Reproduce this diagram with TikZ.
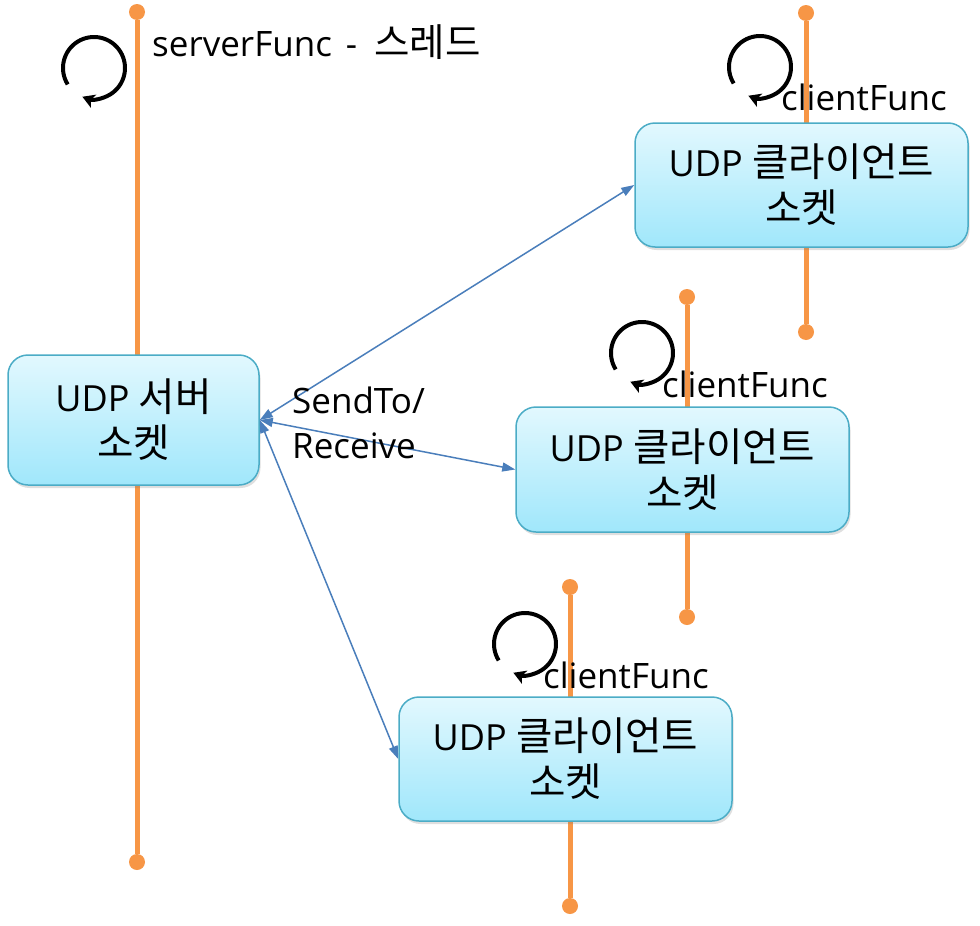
\documentclass[tikz,border=0pt]{standalone}
\usepackage{fontspec}
\setmainfont{Open Sans}
\newfontfamily\kr[Scale=1.1]{Noto Sans CJK KR}
\usetikzlibrary{arrows.meta,shadows}
\definecolor{lineorange}{HTML}{F79646}
\definecolor{boxborder}{HTML}{4BACC6}
\definecolor{boxtop}{HTML}{E2F8FE}
\definecolor{boxbottom}{HTML}{A0E7FB}
\definecolor{linkblue}{HTML}{4A7EBB}
\tikzset{
  sockbox/.style={draw=boxborder, line width=1.5pt, rounded corners=20pt,
    top color=boxtop, bottom color=boxbottom, align=center,
    font=\fontsize{36}{46}\selectfont, inner sep=0pt,
    drop shadow={opacity=0.25, shadow xshift=1.5pt, shadow yshift=-3pt}},
  lifeline/.style={draw=lineorange, line width=5pt},
  enddot/.style={circle, fill=lineorange, minimum size=16pt, inner sep=0pt},
  lbl/.style={font=\fontsize{35}{45}\selectfont, inner sep=0pt, align=left},
  link/.style={draw=linkblue, line width=1.5pt,
    {Triangle[length=13pt,width=9pt]}-{Triangle[length=13pt,width=9pt]}},
  loop/.style={draw=black, line width=4pt, -{Stealth[length=12pt,width=14pt,inset=3pt]}}
}
\begin{document}
\begin{tikzpicture}[x=1pt,y=-1pt]
\useasboundingbox (0,0) rectangle (980,926);

% lifelines
\node[enddot] (st) at (137,12) {};
\node[enddot] (sb) at (137,862) {};
\draw[lifeline] (st) -- (sb);
\node[enddot] (c1t) at (806,13) {};
\node[enddot] (c1b) at (806,332) {};
\draw[lifeline] (c1t) -- (c1b);
\node[enddot] (c2t) at (687,297) {};
\node[enddot] (c2b) at (687,617) {};
\draw[lifeline] (c2t) -- (c2b);
\node[enddot] (c3t) at (570,587) {};
\node[enddot] (c3b) at (570,906) {};
\draw[lifeline] (c3t) -- (c3b);

% boxes
\node[sockbox, minimum width=251pt, minimum height=130pt] (srv) at (133.5,420) {UDP {\kr 서버}\\{\kr 소켓}};
\node[sockbox, minimum width=333pt, minimum height=124pt] (c1) at (801.5,185) {UDP {\kr 클라이언트}\\{\kr 소켓}};
\node[sockbox, minimum width=333pt, minimum height=125pt] (c2) at (682.5,469.5) {UDP {\kr 클라이언트}\\{\kr 소켓}};
\node[sockbox, minimum width=333pt, minimum height=124pt] (c3) at (565.5,759) {UDP {\kr 클라이언트}\\{\kr 소켓}};

% links
\draw[link] (srv.east) -- (c1.west);
\draw[link] (srv.east) -- (c2.west);
\draw[link] (srv.east) -- (c3.west);

% loop icons
\coordinate (l0) at (94,68);
\coordinate (l1) at (760,67);
\coordinate (l2) at (642,353);
\coordinate (l3) at (525,644);
\foreach \c in {l0,l1,l2,l3}{
  \draw[loop] ([shift={(-212:31)}]\c) arc[start angle=-212, end angle=112, radius=31];
}

% labels
\node[lbl, anchor=base west] (sf) at (152,56) {serverFunc\hspace{14pt}-\hspace{17pt}{\kr 스레드}};
\node[lbl, anchor=base west] (cf1) at (781,110) {clientFunc};
\node[lbl, anchor=base west] (cf2) at (662,397) {clientFunc};
\node[lbl, anchor=base west] (cf3) at (543,688) {clientFunc};
\node[lbl, anchor=base west] (sr) at (292,458) {SendTo/\\Receive};
\end{tikzpicture}
\end{document}
